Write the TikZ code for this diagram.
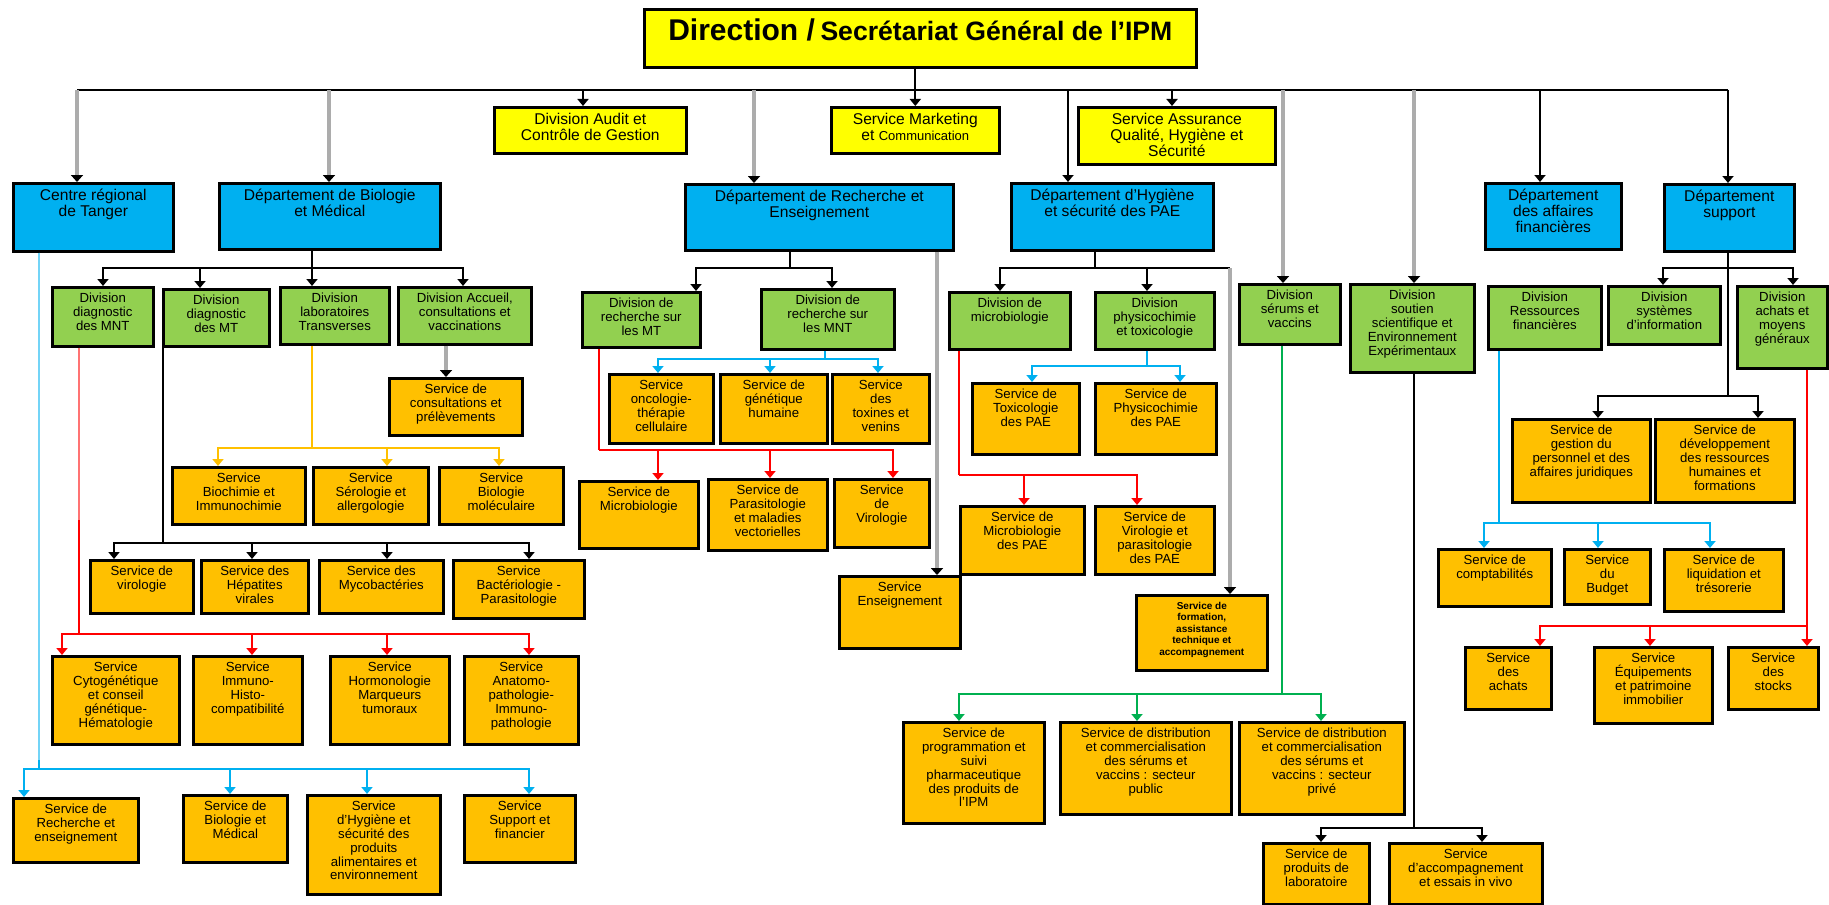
\documentclass[tikz,border=0pt]{standalone}
\usepackage{fontspec}
\setmainfont{Liberation Sans}
\usetikzlibrary{arrows.meta}
\definecolor{orgyellow}{HTML}{FFFF00}
\definecolor{orgblue}{HTML}{00B0F0}
\definecolor{orggreen}{HTML}{92D050}
\definecolor{orggold}{HTML}{FFC000}
\definecolor{linkgreen}{HTML}{00B050}
\definecolor{linkred}{HTML}{FF0000}
\tikzset{
  bigtext/.style={font={\fontsize{7.8}{8}\selectfont\def\toppad{8.5pt}}},
  smalltext/.style={font={\fontsize{6.6}{6.9}\selectfont\def\toppad{7.8pt}}},
  topbox/.style={draw=black,fill=orgyellow,line width=1.3pt,bigtext},
  deptbox/.style={draw=black,fill=orgblue,line width=1.3pt,bigtext},
  divbox/.style={draw=black,fill=orggreen,line width=1.3pt,smalltext},
  servbox/.style={draw=black,fill=orggold,line width=1.3pt,smalltext},
  headed/.style={-{Triangle[width=5.5pt,length=3.5pt]}},
  blackline/.style={line width=1pt,black},
  redline/.style={line width=1pt,linkred},
  blueline/.style={line width=1pt,orgblue},
  greenline/.style={line width=1pt,linkgreen},
  goldline/.style={line width=1pt,orggold},
  fadedline/.style={line width=1.2pt,color=#1!55},
  greyline/.style={line width=1.8pt,gray!65,-{Triangle[width=6pt,length=3.5pt,color=black]}}
}
% box given by its corners, text hung from the top edge
\newcommand\orgnode[7]{%
  \node[#2,anchor=north west,inner sep=0pt] (#1) at (#3,#4)
    {\parbox[t][\dimexpr0.5pt*\numexpr#6-#4\relax\relax][t]{\dimexpr0.5pt*\numexpr#5-#3\relax\relax}%
      {\centering\rule{0pt}{\toppad}#7\par}};}
% stem from a parent down to a bus, then one arrow per child
\newcommand\branch[5]{%
  \coordinate (j#2) at (#3,#4);
  \draw[#1] (#3,0 |- #2.south) -- (j#2);
  \foreach \px/\tg in {#5}
    \draw[#1,headed] (j#2) -- (\px,#4) -- (\px,0 |- \tg.north);}

\begin{document}
\begin{tikzpicture}[x=0.5pt,y=-0.5pt]
\useasboundingbox (0,0) rectangle (1829,904);

% top level
\orgnode{title}{topbox,font={\def\toppad{15.5pt}}}{643}{8}{1195}{66}{{\fontsize{15}{16}\selectfont\bfseries Direction /} {\fontsize{13.3}{16}\selectfont\bfseries Secrétariat Général de l'IPM}}
\orgnode{audit}{topbox}{493}{106}{685}{152}{Division Audit et\\Contrôle de Gestion}
\orgnode{mkt}{topbox}{830}{106}{998}{152}{Service Marketing\\et {\fontsize{6.5}{8}\selectfont Communication}}
\orgnode{assur}{topbox}{1077}{106}{1274}{163}{Service Assurance\\Qualité, Hygiène et\\Sécurité}

% departments
\orgnode{tanger}{deptbox}{12}{182}{172}{250}{Centre régional\\de Tanger}
\orgnode{bio}{deptbox}{218}{182}{439}{248}{Département de Biologie\\et Médical}
\orgnode{rech}{deptbox}{684}{183}{952}{249}{Département de Recherche et\\Enseignement}
\orgnode{hyg}{deptbox}{1010}{182}{1212}{249}{Département d'Hygiène\\et sécurité des PAE}
\orgnode{fin}{deptbox}{1484}{182}{1620}{248}{Département\\des affaires\\financières}
\orgnode{supp}{deptbox}{1663}{183}{1793}{250}{Département\\support}

% divisions
\orgnode{dMNT}{divbox}{51}{286}{152}{345}{Division\\diagnostic\\des MNT}
\orgnode{dMT}{divbox}{162}{288}{268}{345}{Division\\diagnostic\\des MT}
\orgnode{dLab}{divbox}{279}{286}{388}{343}{Division\\laboratoires\\Transverses}
\orgnode{dAcc}{divbox}{397}{286}{530}{343}{Division Accueil,\\consultations et\\vaccinations}
\orgnode{rMT}{divbox}{581}{291}{699}{346}{Division de\\recherche sur\\les MT}
\orgnode{rMNT}{divbox}{760}{288}{893}{348}{Division de\\recherche sur\\les MNT}
\orgnode{dMicro}{divbox}{948}{291}{1069}{348}{Division de\\microbiologie}
\orgnode{dPhys}{divbox}{1094}{291}{1213}{348}{Division\\physicochimie\\et toxicologie}
\orgnode{dSer}{divbox}{1238}{283}{1339}{343}{Division\\sérums et\\vaccins}
\orgnode{dSout}{divbox}{1349}{283}{1473}{371}{Division\\soutien\\scientifique et\\Environnement\\Expérimentaux}
\orgnode{dRes}{divbox}{1487}{285}{1600}{348}{Division\\Ressources\\financières}
\orgnode{dSys}{divbox}{1607}{285}{1719}{343}{Division\\systèmes\\d'information}
\orgnode{dAch}{divbox}{1736}{285}{1826}{367}{Division\\achats et\\moyens\\généraux}

% services
\orgnode{sConsult}{servbox}{388}{377}{521}{434}{Service de\\consultations et\\prélèvements}
\orgnode{sBioch}{servbox}{171}{466}{304}{523}{Service\\Biochimie et\\Immunochimie}
\orgnode{sSero}{servbox}{312}{466}{427}{523}{Service\\Sérologie et\\allergologie}
\orgnode{sBmol}{servbox}{438}{466}{562}{523}{Service\\Biologie\\moléculaire}
\orgnode{sViro}{servbox}{89}{559}{192}{612}{Service de\\virologie}
\orgnode{sHep}{servbox}{200}{559}{307}{612}{Service des\\Hépatites\\virales}
\orgnode{sMyco}{servbox}{318}{559}{442}{612}{Service des\\Mycobactéries}
\orgnode{sBact}{servbox}{452}{559}{583}{617}{Service\\Bactériologie -\\Parasitologie}
\orgnode{sCyto}{servbox}{51}{655}{178}{743}{Service\\Cytogénétique\\et conseil\\génétique-\\Hématologie}
\orgnode{sImm}{servbox}{192}{655}{301}{743}{Service\\Immuno-\\Histo-\\compatibilité}
\orgnode{sHorm}{servbox}{329}{655}{448}{743}{Service\\Hormonologie\\Marqueurs\\tumoraux}
\orgnode{sAnat}{servbox}{463}{655}{577}{743}{Service\\Anatomo-\\pathologie-\\Immuno-\\pathologie}
\orgnode{sRech}{servbox}{12}{797}{137}{861}{Service de\\Recherche et\\enseignement}
\orgnode{sBioMed}{servbox}{182}{794}{286}{861}{Service de\\Biologie et\\Médical}
\orgnode{sHygAl}{servbox}{306}{794}{439}{893}{Service\\d'Hygiène et\\sécurité des\\produits\\alimentaires et\\environnement}
\orgnode{sSupp}{servbox}{463}{794}{574}{861}{Service\\Support et\\financier}
\orgnode{sOnco}{servbox}{608}{373}{712}{442}{Service\\oncologie-\\thérapie\\cellulaire}
\orgnode{sGen}{servbox}{719}{373}{826}{442}{Service de\\génétique\\humaine}
\orgnode{sTox}{servbox}{831}{373}{928}{442}{Service\\des\\toxines et\\venins}
\orgnode{sMicro}{servbox}{578}{480}{697}{547}{Service de\\Microbiologie}
\orgnode{sPara}{servbox}{707}{478}{826}{549}{Service de\\Parasitologie\\et maladies\\vectorielles}
\orgnode{sVir}{servbox}{833}{478}{928}{546}{Service\\de\\Virologie}
\orgnode{sEns}{servbox}{838}{575}{959}{647}{Service\\Enseignement}
\orgnode{sToxP}{servbox}{971}{382}{1078}{453}{Service de\\Toxicologie\\des PAE}
\orgnode{sPhysP}{servbox}{1094}{382}{1215}{453}{Service de\\Physicochimie\\des PAE}
\orgnode{sMicP}{servbox}{959}{505}{1083}{573}{Service de\\Microbiologie\\des PAE}
\orgnode{sVirP}{servbox}{1094}{505}{1213}{573}{Service de\\Virologie et\\parasitologie\\des PAE}
\orgnode{sForm}{servbox,font={\fontsize{5}{5.75}\selectfont\bfseries\def\toppad{7pt}}}{1135}{594}{1266}{669}{Service de\\formation,\\assistance\\technique et\\accompagnement}
\orgnode{sProg}{servbox}{902}{721}{1043}{822}{Service de\\programmation et\\suivi\\pharmaceutique\\des produits de\\l'IPM}
\orgnode{sPub}{servbox}{1059}{721}{1230}{813}{Service de distribution\\et commercialisation\\des sérums et\\vaccins : secteur\\public}
\orgnode{sPriv}{servbox}{1238}{721}{1403}{813}{Service de distribution\\et commercialisation\\des sérums et\\vaccins : secteur\\privé}
\orgnode{sLab}{servbox}{1262}{842}{1368}{903}{Service de\\produits de\\laboratoire}
\orgnode{sVivo}{servbox}{1388}{842}{1541}{903}{Service\\d'accompagnement\\et essais in vivo}
\orgnode{sGest}{servbox}{1511}{418}{1649}{501}{Service de\\gestion du\\personnel et des\\affaires juridiques}
\orgnode{sDev}{servbox}{1654}{418}{1793}{501}{Service de\\développement\\des ressources\\humaines et\\formations}
\orgnode{sCompt}{servbox}{1437}{548}{1550}{605}{Service de\\comptabilités}
\orgnode{sBud}{servbox}{1563}{548}{1649}{603}{Service\\du\\Budget}
\orgnode{sLiq}{servbox}{1663}{548}{1782}{610}{Service de\\liquidation et\\trésorerie}
\orgnode{sAch}{servbox}{1464}{646}{1550}{708}{Service\\des\\achats}
\orgnode{sEq}{servbox}{1593}{646}{1711}{722}{Service\\Équipements\\et patrimoine\\immobilier}
\orgnode{sStk}{servbox}{1727}{646}{1817}{708}{Service\\des\\stocks}

% main bus
\coordinate (mainL) at (77,90);
\coordinate (mainR) at (1728,90);
\draw[blackline] (mainL) -- (mainR);
\draw[blackline,headed] (title.south -| mkt.north) -- (mkt.north);
\foreach \px/\tg in {77/tanger,329/bio,754/rech,1283/dSer,1414/dSout}
  \draw[greyline] (\px,0 |- mainL) -- (\px,0 |- \tg.north);
\foreach \px/\tg in {583/audit,1068/hyg,1172/assur,1540/fin,1728/supp}
  \draw[blackline,headed] (\px,0 |- mainL) -- (\px,0 |- \tg.north);

% Biologie et Medical
\branch{blackline}{bio}{312}{268}{103/dMNT,200/dMT,312/dLab,463/dAcc}
\draw[greyline] (446,0 |- dAcc.south) -- (446,0 |- sConsult.north);
\branch{goldline}{dLab}{312}{448}{218/sBioch,387/sSero,499/sBmol}
\branch{blackline}{dMT}{163}{543}{114/sViro,252/sHep,387/sMyco,529/sBact}
\branch{redline}{dMNT}{79}{634}{62/sCyto,252/sImm,387/sHorm,529/sAnat}
\draw[fadedline=linkred] (79,0 |- dMNT.south) -- (79,520);
\branch{blueline}{tanger}{39}{769}{24/sRech,230/sBioMed,367/sHygAl,529/sSupp}
\draw[fadedline=orgblue] (39,0 |- tanger.south) -- (39,760);

% Recherche et Enseignement
\branch{blackline}{rech}{790}{268}{696/rMT,832/rMNT}
\draw[greyline] (937,0 |- rech.south) -- (937,0 |- sEns.north);
\branch{redline}{rMT}{599}{450}{658/sMicro,770/sPara,893/sVir}
\branch{blueline}{rMNT}{825}{359}{658/sOnco,770/sGen,878/sTox}

% Hygiene et securite des PAE
\branch{blackline}{hyg}{1095}{268}{1000/dMicro,1147/dPhys}
\coordinate (hygEnd) at (1230,268);
\draw[blackline] (jhyg) -- (hygEnd);
\draw[greyline] (hygEnd) -- (hygEnd |- sForm.north);
\branch{blueline}{dPhys}{1147}{366}{1032/sToxP,1180/sPhysP}
\branch{redline}{dMicro}{959}{475}{1024/sMicP,1137/sVirP}

% serums, soutien
\branch{greenline}{dSer}{1282}{694}{959/sProg,1137/sPub,1321/sPriv}
\branch{blackline}{dSout}{1414}{828}{1321/sLab,1482/sVivo}

% affaires financieres, support
\branch{blueline}{dRes}{1499}{523}{1484/sCompt,1598/sBud,1710/sLiq}
\branch{blackline}{supp}{1728}{268}{1663/dSys,1793/dAch}
\branch{blackline}{supp}{1728}{396}{1598/sGest,1758/sDev}
\branch{redline}{dAch}{1807}{626}{1540/sAch,1650/sEq,1807/sStk}
\end{tikzpicture}
\end{document}
